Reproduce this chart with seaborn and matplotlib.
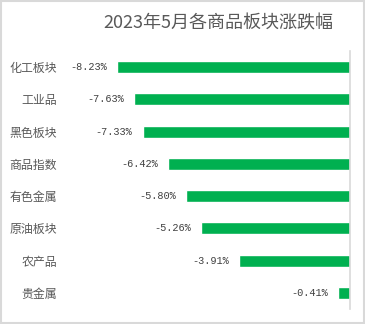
import matplotlib
matplotlib.use("Agg")
import matplotlib.pyplot as plt
import matplotlib.patches as patches
import seaborn as sns
import pandas as pd

categories = ["化工板块", "工业品", "黑色板块", "商品指数", "有色金属", "原油板块", "农产品", "贵金属"]
values = [-8.23, -7.63, -7.33, -6.42, -5.80, -5.26, -3.91, -0.41]
labels = ["-8.23%", "-7.63%", "-7.33%", "-6.42%", "-5.80%", "-5.26%", "-3.91%", "-0.41%"]
title = "2023年5月各商品板块涨跌幅"

sns.set_theme(style="white")
plt.rcParams['font.family'] = ['Noto Sans CJK SC', 'DejaVu Sans']

df = pd.DataFrame({"cat": categories, "val": values})

fig = plt.figure(figsize=(3.65, 3.24), dpi=100)
ax = fig.add_axes([62/365, 15/324, 288/365, 258/324])
sns.barplot(data=df, x="val", y="cat", orient="h", color="#00B050",
            width=0.37, saturation=1, ax=ax)

ax.set_xlim(-(288/28.3), 0)
ax.set_ylim(len(categories) - 0.5, -0.5)
ax.set_xlabel("")
ax.set_ylabel("")
ax.set_xticks([])
for s in ["top", "bottom", "left"]:
    ax.spines[s].set_visible(False)
ax.spines["right"].set_color("#d9d9d9")
ax.spines["right"].set_linewidth(1.2)
ax.tick_params(axis="y", length=0, pad=3.6, labelsize=8.6, labelcolor="#595959")

for i, (v, lab) in enumerate(zip(values, labels)):
    ax.annotate(lab, xy=(v, i), xytext=(-10, 0), textcoords="offset pixels",
                ha="right", va="center", fontsize=7.4, color="#404040",
                family=["Liberation Mono", "DejaVu Sans Mono"])

fig.text(0.599, 0.929, title, ha="center", va="center", fontsize=13,
         color="#595959")

fig.patches.append(patches.Rectangle((0.002, 0.004), 0.994, 0.992, transform=fig.transFigure,
                                     fill=False, edgecolor="#d9d9d9", linewidth=1.5))

fig.savefig("out.png", dpi=100, facecolor="white")
